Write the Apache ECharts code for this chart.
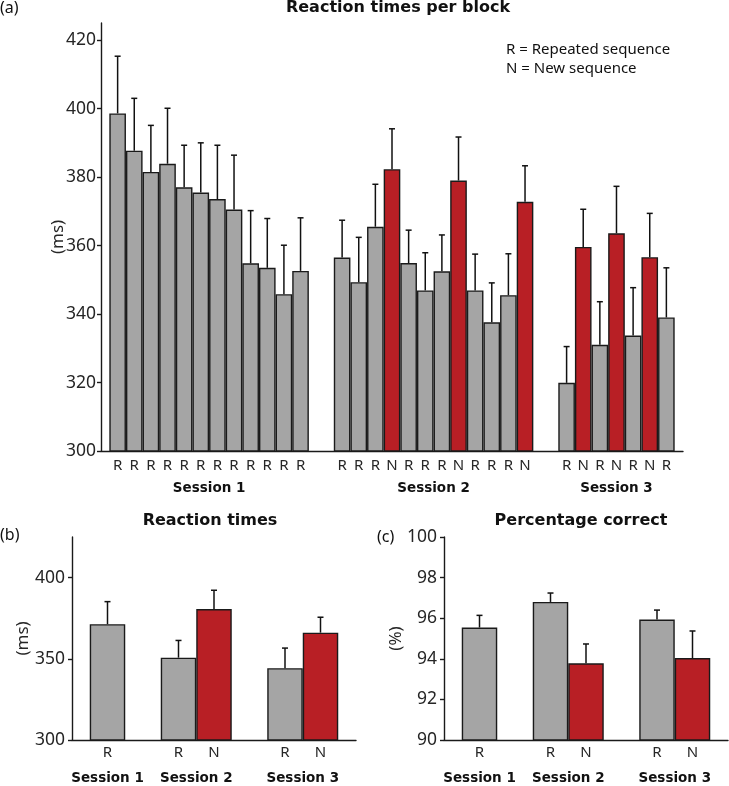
<!DOCTYPE html>
<html>
<head>
<meta charset="utf-8">
<script src="https://cdn.jsdelivr.net/npm/echarts@6/dist/echarts.min.js"></script>
<style>
html,body{margin:0;padding:0;background:#fff;}
#chart{width:729px;height:786px;}
</style>
</head>
<body>
<div id="chart"></div>
<script>
// ---------- DATA ----------
const sessionNames = ['Session 1', 'Session 2', 'Session 3'];

// (a) Reaction times per block
const blockLabelsS1 = ['R','R','R','R','R','R','R','R','R','R','R','R'];
const blockMeansS1  = [398.6, 387.7, 381.5, 383.9, 377.0, 375.5, 373.6, 370.5, 354.8, 353.5, 345.8, 352.6];
const blockErrS1    = [16.7, 15.3, 13.6, 16.2, 12.3, 14.5, 15.7, 15.9, 15.4, 14.4, 14.3, 15.5];

const blockLabelsS2 = ['R','R','R','N','R','R','R','N','R','R','R','N'];
const blockMeansS2  = [356.5, 349.3, 365.5, 382.3, 354.9, 346.9, 352.5, 379.0, 346.9, 337.6, 345.5, 372.8];
const blockErrS2    = [10.9, 13.1, 12.4, 11.8, 9.6, 11.0, 10.6, 12.7, 10.6, 11.5, 12.1, 10.5];

const blockLabelsS3 = ['R','N','R','N','R','N','R'];
const blockMeansS3  = [319.9, 359.6, 331.0, 363.6, 333.7, 356.6, 339.0];
const blockErrS3    = [10.6, 11.0, 12.6, 13.7, 14.0, 12.8, 14.5];

// (b) Reaction times per session
const rtLabels = [['R'], ['R','N'], ['R','N']];
const rtMeans  = [[371.3], [350.7, 380.6], [344.2, 366.1]];
const rtErr    = [[13.9], [10.6, 11.6], [12.4, 9.5]];

// (c) Percentage correct per session
const pcLabels = [['R'], ['R','N'], ['R','N']];
const pcMeans  = [[95.54], [96.80, 93.78], [95.93, 94.04]];
const pcErr    = [[0.60], [0.44, 0.95], [0.47, 1.33]];

// tick labels
const yTicksA = [300, 320, 340, 360, 380, 400, 420];
const yTicksB = [300, 350, 400];
const yTicksC = [90, 92, 94, 96, 98, 100];

// ---------- STYLE ----------
const GRAY = '#a5a5a5';
const RED = '#b81f25';
const EDGE = '#1a1a1a';
const TXT = '#262626';
const REG = '"Noto Sans", "DejaVu Sans", sans-serif';
const BOLD = '"DejaVu Sans", sans-serif';

// Build positioned items for a grouped chart
function layoutGroups(labelsArr, meansArr, errArr, gap) {
  const bars = [], errs = [], labelMap = {}, sessionMap = {};
  let pos = 1;
  labelsArr.forEach((labs, k) => {
    const start = pos;
    labs.forEach((lab, i) => {
      const x = pos;
      const m = meansArr[k][i], e = errArr[k][i];
      bars.push({ value: [x, m], itemStyle: { color: lab === 'N' ? RED : GRAY } });
      errs.push([x, m, m + e]);
      labelMap[String(x)] = lab;
      pos += 1;
    });
    sessionMap[String(start + (labs.length - 1) / 2)] = sessionNames[k];
    pos += gap;
  });
  return { bars, errs, labelMap, sessionMap };
}

const A = layoutGroups([blockLabelsS1, blockLabelsS2, blockLabelsS3],
                       [blockMeansS1, blockMeansS2, blockMeansS3],
                       [blockErrS1, blockErrS2, blockErrS3], 1.5);
const B = layoutGroups(rtLabels, rtMeans, rtErr, 1);
const C = layoutGroups(pcLabels, pcMeans, pcErr, 1);

function errRender(params, api) {
  const x = api.value(0), lo = api.value(1), hi = api.value(2);
  const p0 = api.coord([x, lo]), p1 = api.coord([x, hi]);
  const w = 3;
  const st = { stroke: '#111', lineWidth: 1.5 };
  return { type: 'group', children: [
    { type: 'line', shape: { x1: p0[0], y1: p0[1], x2: p1[0], y2: p1[1] }, style: st },
    { type: 'line', shape: { x1: p1[0] - w, y1: p1[1], x2: p1[0] + w, y2: p1[1] }, style: st }
  ]};
}

const grids = [
  { left: 101, top: 23, width: 582, height: 428 },
  { left: 72, top: 537, width: 284, height: 203 },
  { left: 444, top: 537, width: 284, height: 203 }
];
const xMax = [35, 8, 8];
const sets = [A, B, C];

const xAxes = [], yAxes = [], series = [];
sets.forEach((S, g) => {
  const labelPos = Object.keys(S.labelMap).map(Number);
  const sessPos = Object.keys(S.sessionMap).map(Number);
  xAxes.push({
    gridIndex: g, type: 'value', min: 0, max: xMax[g], interval: 0.5, position: 'bottom',
    axisLine: { show: true, onZero: false, lineStyle: { color: EDGE, width: 1.4 } },
    axisTick: { show: false }, splitLine: { show: false },
    axisLabel: {
      customValues: labelPos, margin: g === 0 ? 7 : 5,
      formatter: v => S.labelMap[String(v)] || '',
      color: TXT, fontFamily: REG, fontSize: 15
    }
  });
  xAxes.push({
    gridIndex: g, type: 'value', min: 0, max: xMax[g], interval: 0.5, position: 'bottom',
    axisLine: { show: false }, axisTick: { show: false }, splitLine: { show: false },
    axisLabel: {
      customValues: sessPos, margin: g === 0 ? 30 : 31,
      formatter: v => S.sessionMap[String(v)] || '',
      color: '#111', fontFamily: BOLD, fontWeight: 'bold', fontSize: 13.5
    }
  });
  const barW = grids[g].width / xMax[g];
  series.push({
    type: 'bar', xAxisIndex: 2 * g, yAxisIndex: g, data: S.bars, barWidth: barW,
    itemStyle: { borderColor: EDGE, borderWidth: 1.4 }, clip: true, z: 2,
    emphasis: { disabled: true }
  });
  series.push({
    type: 'custom', xAxisIndex: 2 * g, yAxisIndex: g, data: S.errs,
    renderItem: errRender, encode: { x: 0, y: [1, 2] }, z: 3, clip: false
  });
});

const yCommon = (g, min, max, ticks, name, gap, margin) => ({
  gridIndex: g, type: 'value', min: min, max: max,
  name: name, nameLocation: 'middle', nameGap: gap, nameRotate: 90, nameMoveOverlap: false,
  nameTextStyle: { color: TXT, fontFamily: REG, fontSize: 17 },
  axisLine: { show: true, lineStyle: { color: EDGE, width: 1.4 } },
  axisTick: { show: true, customValues: ticks, length: 4, lineStyle: { color: EDGE, width: 1.4 } },
  splitLine: { show: false },
  axisLabel: { customValues: ticks, margin: margin, color: TXT, fontFamily: REG, fontSize: 17.5 }
});
yAxes.push(yCommon(0, 300, 425, yTicksA, '(ms)', 34, 5));
yAxes.push(yCommon(1, 300, 425, yTicksB, '(ms)', 40, 7));
yAxes.push(yCommon(2, 90, 100, yTicksC, '(%)', 39, 7));

const txt = (x, y, text, opt) => ({
  type: 'text', x: x, y: y,
  style: Object.assign({ text: text, fill: '#111', font: '16px ' + REG, textVerticalAlign: 'middle', textAlign: 'left' }, opt || {})
});

const option = {
  animation: false,
  backgroundColor: '#fff',
  grid: grids,
  xAxis: xAxes,
  yAxis: yAxes,
  series: series,
  graphic: [
    txt(0, 8, '(a)'),
    txt(398, 8, 'Reaction times per block', { font: 'bold 16px ' + BOLD, textAlign: 'center' }),
    txt(506, 50, 'R = Repeated sequence', { font: '15px ' + REG }),
    txt(506, 69, 'N = New sequence', { font: '15px ' + REG }),
    txt(0, 535, '(b)'),
    txt(210, 521, 'Reaction times', { font: 'bold 16px ' + BOLD, textAlign: 'center' }),
    txt(377, 537, '(c)'),
    txt(581, 521, 'Percentage correct', { font: 'bold 16px ' + BOLD, textAlign: 'center' })
  ]
};

const chart = echarts.init(document.getElementById('chart'), null, { renderer: 'canvas' });
chart.setOption(option);
</script>
</body>
</html>
